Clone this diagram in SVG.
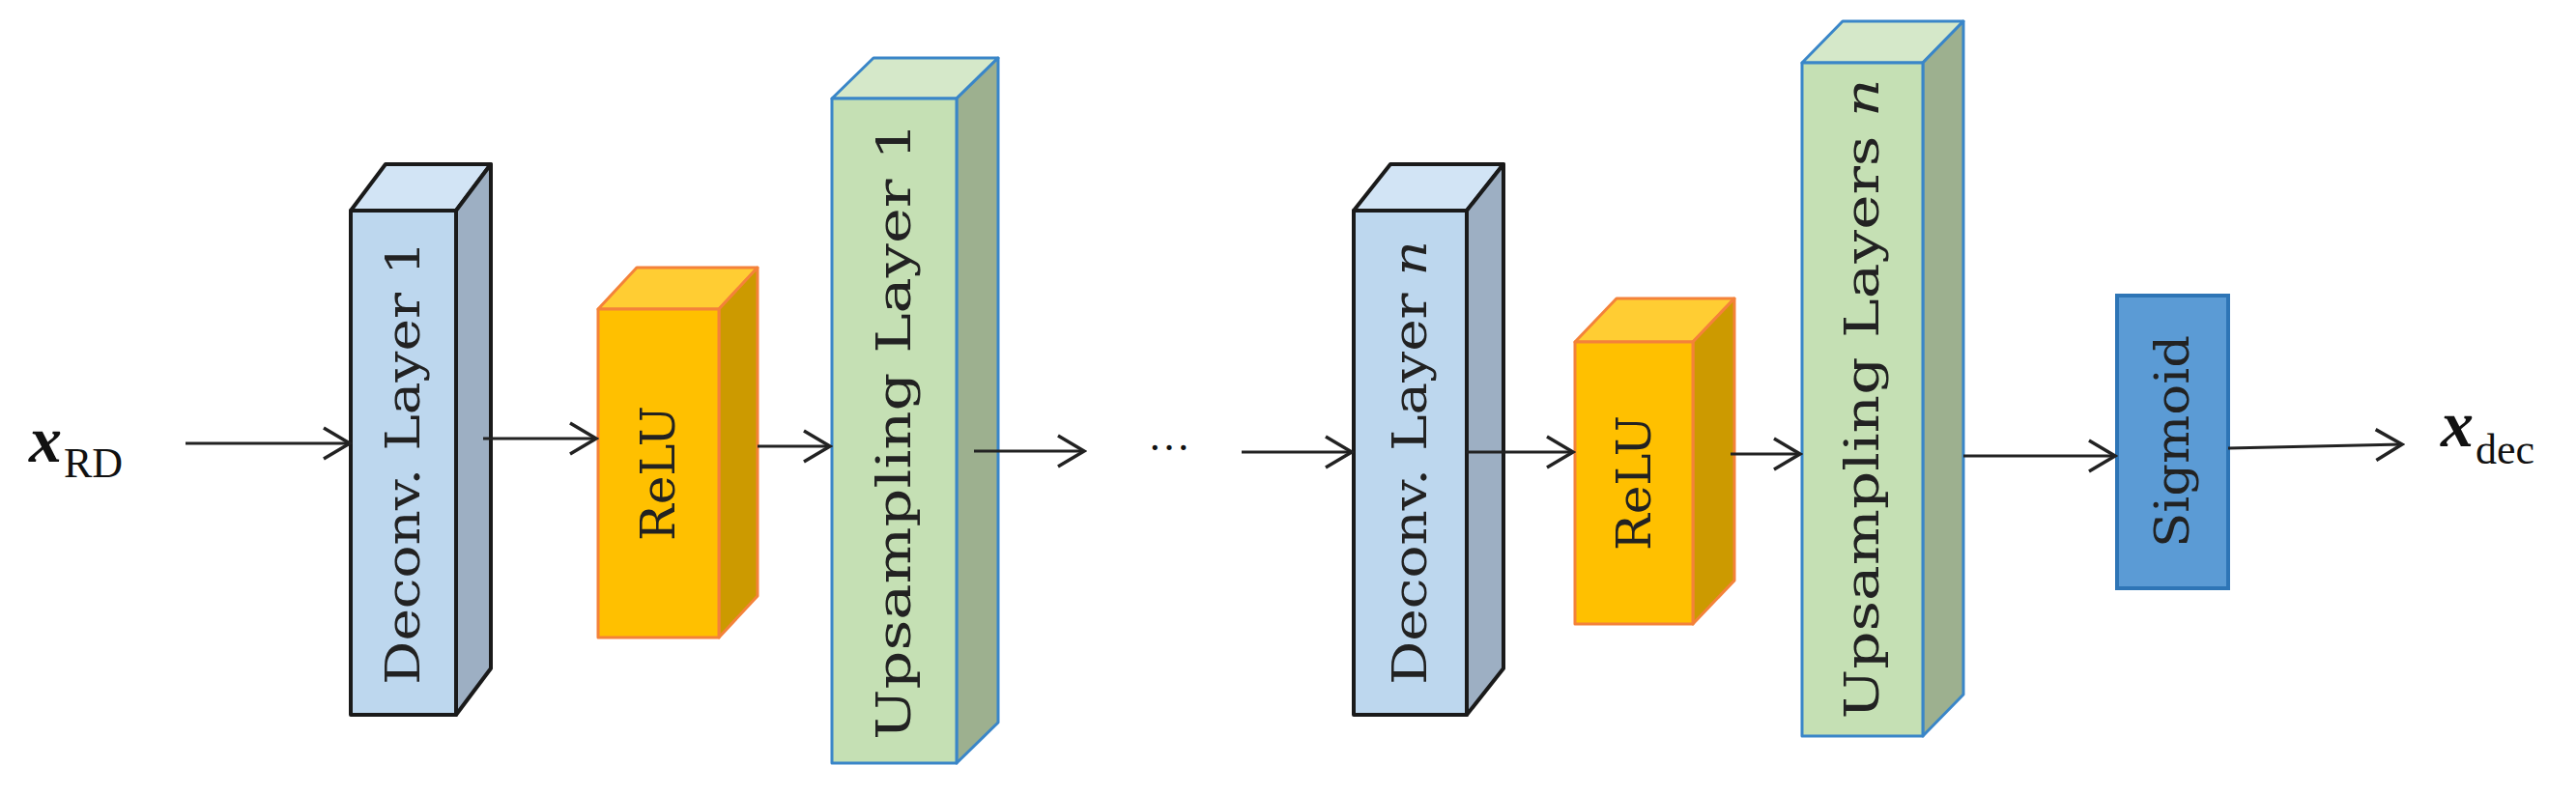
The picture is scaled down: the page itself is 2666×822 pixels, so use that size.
<svg xmlns="http://www.w3.org/2000/svg" width="2666" height="822" viewBox="0 0 2666 822">
<style>
.t{font-family:"DejaVu Serif","Liberation Serif",serif;font-size:48px;fill:#222}
.dec .f{fill:#bdd7ee}.dec .tp{fill:#d2e4f5}.dec .sd{fill:#9dafc3}.dec polygon,.dec rect{stroke:#1a1a1a;stroke-width:4;stroke-linejoin:round}
.rel .f{fill:#ffc000}.rel .tp{fill:#ffcd33}.rel .sd{fill:#cc9a00}.rel polygon,.rel rect{stroke:#f4823a;stroke-width:3;stroke-linejoin:round}
.ups .f{fill:#c5e0b4}.ups .tp{fill:#d5e8c9}.ups .sd{fill:#9db08f}.ups polygon,.ups rect{stroke:#3a86c8;stroke-width:3;stroke-linejoin:round}
.c line{stroke:#222;stroke-width:3;marker-end:url(#ah)}
.m{font-family:"Liberation Serif","DejaVu Serif",serif;fill:#111}
</style>
<defs>
<marker id="ah" markerUnits="userSpaceOnUse" markerWidth="34" markerHeight="40" refX="31" refY="20" orient="auto">
<path d="M4,4 L31,20 L4,36" fill="none" stroke="#222" stroke-width="3.5"/>
</marker>
</defs>
<g id="deconv1" class="dec">
<polygon class="tp" points="363,218 399,170 508,170 472,218"/>
<polygon class="sd" points="472,218 508,170 508,692 472,740"/>
<rect class="f" x="363" y="218" width="109" height="522"/>
<text class="t" transform="translate(434,479) rotate(-90)" text-anchor="middle" textLength="460" lengthAdjust="spacingAndGlyphs">Deconv. Layer 1</text>
</g>
<g id="relu1" class="rel">
<polygon class="tp" points="619,320 659,277 784,277 744,320"/>
<polygon class="sd" points="744,320 784,277 784,617 744,660"/>
<rect class="f" x="619" y="320" width="125" height="340"/>
<text class="t" transform="translate(698,490) rotate(-90)" text-anchor="middle" textLength="140" lengthAdjust="spacingAndGlyphs">ReLU</text>
</g>
<g id="ups1" class="ups">
<polygon class="tp" points="861,102 904,60 1033,60 990,102"/>
<polygon class="sd" points="990,102 1033,60 1033,748 990,790"/>
<rect class="f" x="861" y="102" width="129" height="688"/>
<text class="t" transform="translate(942,446) rotate(-90)" text-anchor="middle" textLength="640" lengthAdjust="spacingAndGlyphs">Upsampling Layer 1</text>
</g>
<g id="deconvn" class="dec">
<polygon class="tp" points="1401,218 1439,170 1556,170 1518,218"/>
<polygon class="sd" points="1518,218 1556,170 1556,692 1518,740"/>
<rect class="f" x="1401" y="218" width="117" height="522"/>
<text class="t" transform="translate(1476,479) rotate(-90)" text-anchor="middle" textLength="460" lengthAdjust="spacingAndGlyphs">Deconv. Layer <tspan font-style="italic">n</tspan></text>
</g>
<g id="relun" class="rel">
<polygon class="tp" points="1630,354 1673,309 1795,309 1752,354"/>
<polygon class="sd" points="1752,354 1795,309 1795,601 1752,646"/>
<rect class="f" x="1630" y="354" width="122" height="292"/>
<text class="t" transform="translate(1708,500) rotate(-90)" text-anchor="middle" textLength="140" lengthAdjust="spacingAndGlyphs">ReLU</text>
</g>
<g id="upsn" class="ups">
<polygon class="tp" points="1865,65 1907,22 2032,22 1990,65"/>
<polygon class="sd" points="1990,65 2032,22 2032,719 1990,762"/>
<rect class="f" x="1865" y="65" width="125" height="697"/>
<text class="t" transform="translate(1944,413) rotate(-90)" text-anchor="middle" textLength="663" lengthAdjust="spacingAndGlyphs">Upsampling Layers <tspan font-style="italic">n</tspan></text>
</g>
<g id="sigmoid">
<rect x="2191" y="306" width="115" height="303" fill="#5b9bd5" stroke="#2e75b6" stroke-width="4"/>
<text class="t" transform="translate(2265,457) rotate(-90)" text-anchor="middle" textLength="220" lengthAdjust="spacingAndGlyphs">Sigmoid</text>
</g>
<g id="xrd"><text class="m" x="30" y="478" font-size="68" font-style="italic" font-weight="bold">x</text><text class="m" x="66" y="494" font-size="44">RD</text></g>
<g id="xdec"><text class="m" x="2526" y="462" font-size="68" font-style="italic" font-weight="bold">x</text><text class="m" x="2562" y="480" font-size="44">dec</text></g>
<text class="m" x="1210" y="466" font-size="44" text-anchor="middle">…</text>
<g id="connectors" class="c">
<line x1="192" y1="459" x2="362" y2="459"/>
<line x1="500" y1="454" x2="617" y2="454"/>
<line x1="784" y1="462" x2="859" y2="462"/>
<line x1="1008" y1="467" x2="1122" y2="467"/>
<line x1="1285" y1="468" x2="1399" y2="468"/>
<line x1="1518" y1="468" x2="1628" y2="468"/>
<line x1="1791" y1="470" x2="1863" y2="470"/>
<line x1="2032" y1="472" x2="2189" y2="472"/>
<line x1="2306" y1="464" x2="2486" y2="460"/>
</g>
</svg>
